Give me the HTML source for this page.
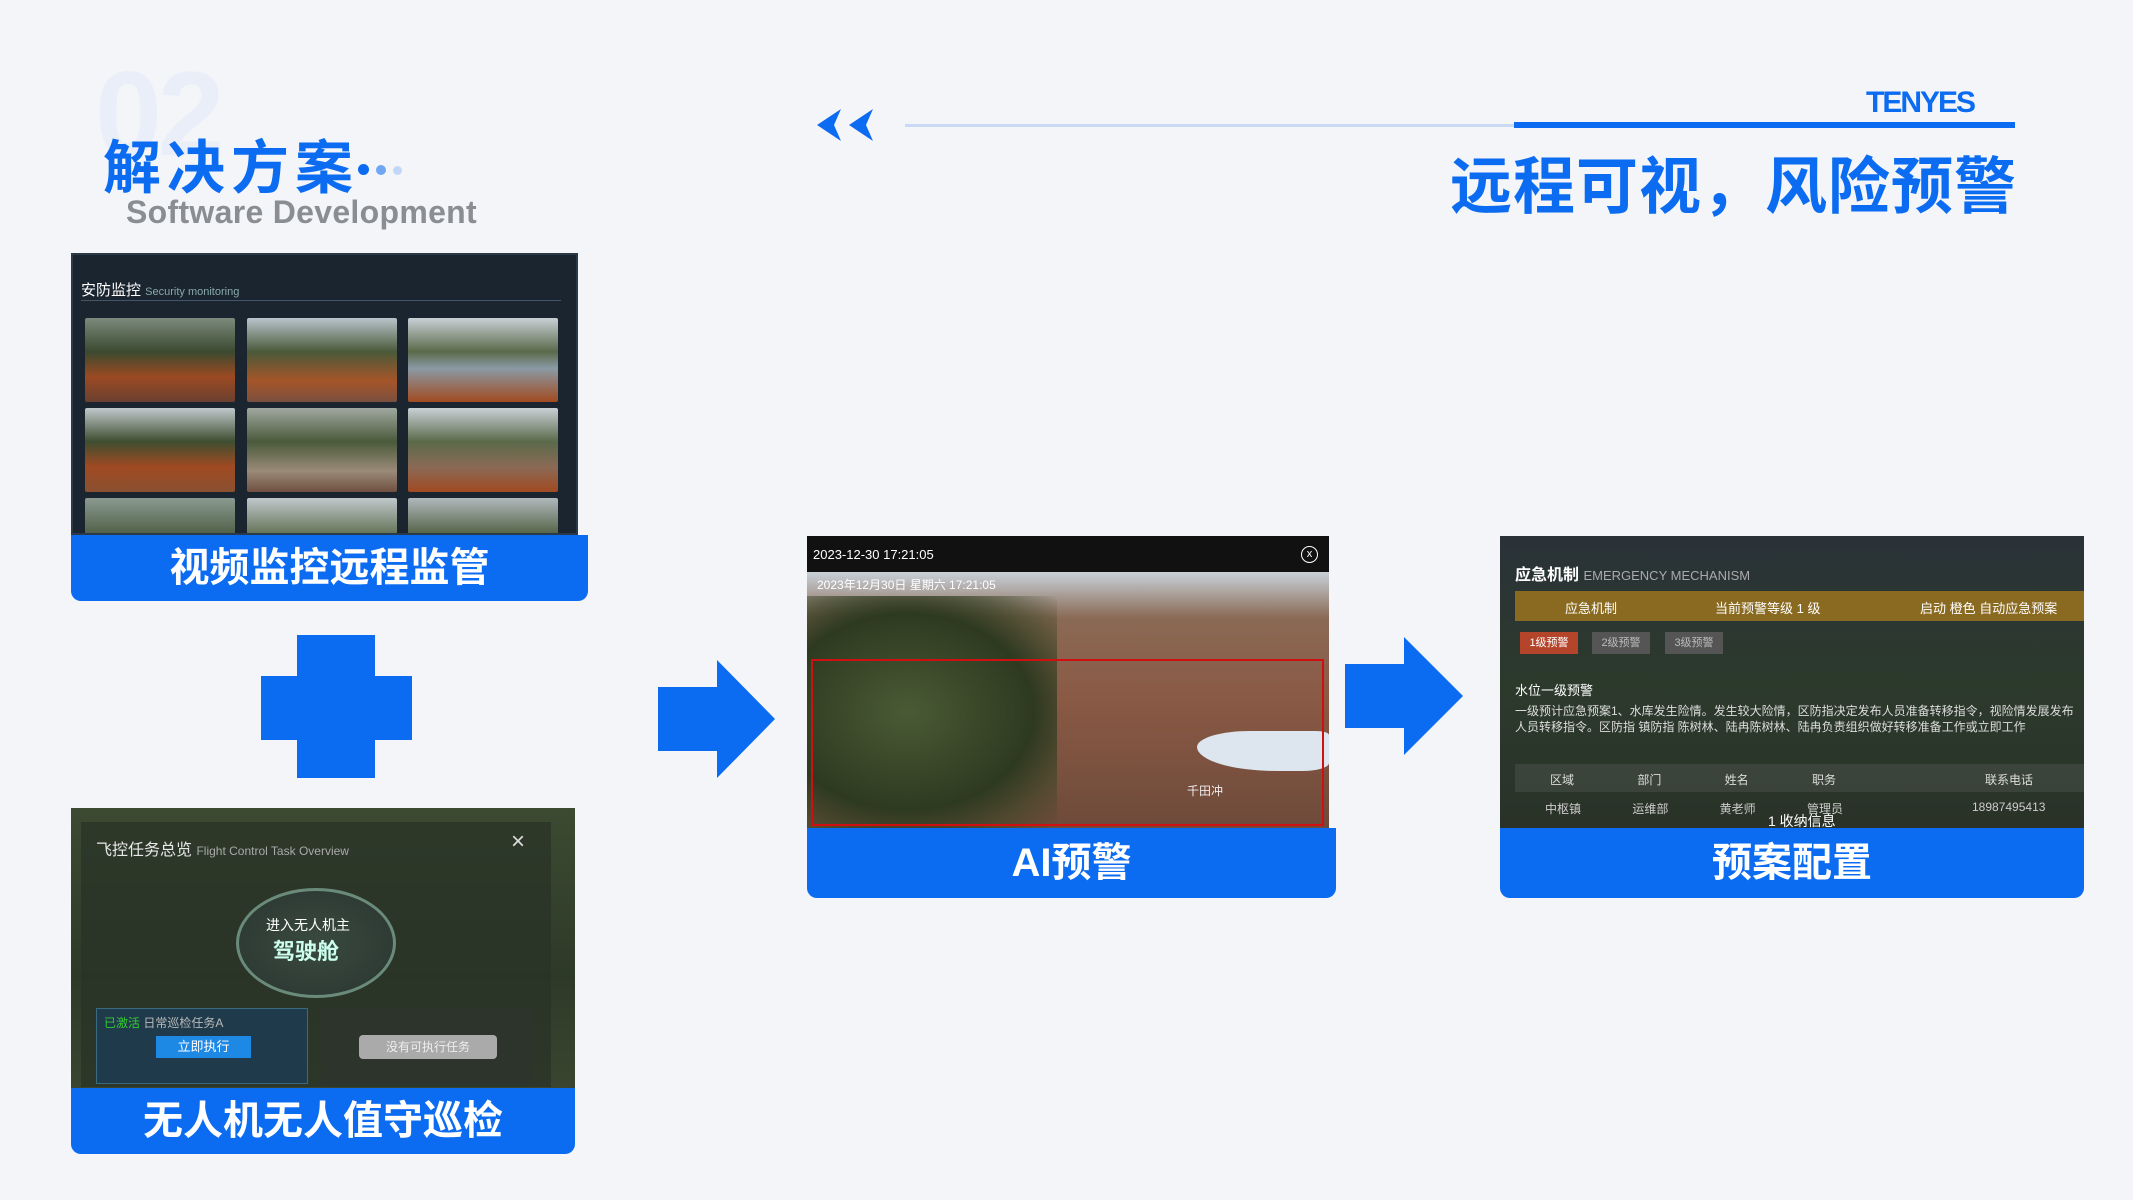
<!DOCTYPE html>
<html><head><meta charset="utf-8">
<style>
*{margin:0;padding:0;box-sizing:border-box}
body{width:2133px;height:1200px;background:#f3f5f8;position:relative;overflow:hidden;font-family:"Liberation Sans","Noto Sans CJK SC",sans-serif}
.a{position:absolute}
.lbl{position:absolute;background:#0b6cf2;color:#fff;font-weight:bold;text-align:center;border-radius:0 0 10px 10px;font-family:"Liberation Sans","Noto Sans CJK SC",sans-serif}
.img{position:absolute;overflow:hidden}
.ph{position:absolute;border-radius:2px}
</style></head><body>
<div class="a" style="left:95px;top:45px;font-size:120px;font-weight:bold;color:#e9eef8;letter-spacing:-4px">02</div>
<div class="a" style="left:103px;top:121px;font-size:58px;font-weight:bold;color:#0b6cf2;letter-spacing:6px">解决方案</div>
<div class="a" style="left:358px;top:164px;width:11px;height:11px;border-radius:50%;background:#0b6cf2"></div>
<div class="a" style="left:376px;top:165px;width:10px;height:10px;border-radius:50%;background:#6fa6f5"></div>
<div class="a" style="left:393px;top:166px;width:9px;height:9px;border-radius:50%;background:#c2d7f8"></div>
<div class="a" style="left:126px;top:194px;font-size:32px;font-weight:bold;color:#8a8d92;letter-spacing:0.3px">Software Development</div>

<svg class="a" style="left:815px;top:106px" width="66" height="38"><path d="M2 19 L26 3 L19 19 L26 35Z M34 19 L58 3 L51 19 L58 35Z" fill="#0b6cf2"/></svg>
<div class="a" style="left:905px;top:124px;width:610px;height:3px;background:#c9daf5"></div>
<div class="a" style="left:1514px;top:122px;width:501px;height:6px;background:#0b6cf2"></div>
<div class="a" style="left:1866px;top:86px;font-size:30px;font-weight:bold;color:#0b6cf2;letter-spacing:-2px">TENYES</div>
<div class="a" style="left:1450px;top:136px;font-size:62px;font-weight:bold;color:#0b6cf2;letter-spacing:1px">远程可视，风险预警</div>

<!-- panel 1 -->
<div class="img" style="left:71px;top:253px;width:507px;height:282px;background:#1a2530;border:2px solid #2b3a48">
 <div class="a" style="left:8px;top:24px;font-size:15px;color:#fff">安防监控 <span style="font-size:11px;color:#8aa">Security monitoring</span></div>
 <div class="a" style="left:8px;top:45px;width:480px;height:1px;background:#456"></div>
 <div class="ph" style="left:12px;top:63px;width:150px;height:84px;background:linear-gradient(#7b8a7c 0%,#3b4a30 40%,#9b4a22 70%,#6b4030)"></div>
 <div class="ph" style="left:174px;top:63px;width:150px;height:84px;background:linear-gradient(#b9c4cc 0%,#4a5a3a 40%,#a55528 75%,#7a5040)"></div>
 <div class="ph" style="left:335px;top:63px;width:150px;height:84px;background:linear-gradient(#c9d0d6 0%,#5a6a4a 40%,#8a9aa5 60%,#a14a20)"></div>
 <div class="ph" style="left:12px;top:153px;width:150px;height:84px;background:linear-gradient(#c0c8cc 0%,#3e4e30 40%,#a04a22 70%,#8a5030)"></div>
 <div class="ph" style="left:174px;top:153px;width:150px;height:84px;background:linear-gradient(#a0a8a0 0%,#4a5a3a 40%,#9a8a78 75%,#705040)"></div>
 <div class="ph" style="left:335px;top:153px;width:150px;height:84px;background:linear-gradient(#c9d0d6 0%,#5a6a4a 40%,#8a6a55 70%,#a04a22)"></div>
 <div class="ph" style="left:12px;top:243px;width:150px;height:40px;background:linear-gradient(#8a9a90,#4a5a40)"></div>
 <div class="ph" style="left:174px;top:243px;width:150px;height:40px;background:linear-gradient(#c0c8cc,#5a6a4a)"></div>
 <div class="ph" style="left:335px;top:243px;width:150px;height:40px;background:linear-gradient(#b0b8bc,#4a5a3a)"></div>
</div>
<div class="lbl" style="left:71px;top:535px;width:517px;height:66px;font-size:40px;line-height:66px">视频监控远程监管</div>

<!-- plus -->
<div class="a" style="left:297px;top:635px;width:78px;height:143px;background:#0b6cf2"></div>
<div class="a" style="left:261px;top:676px;width:151px;height:64px;background:#0b6cf2"></div>

<!-- panel 2 -->
<div class="img" style="left:71px;top:808px;width:504px;height:280px;background:linear-gradient(#3c4a32,#2e3a28 60%,#3a4530)">
 <div class="a" style="left:10px;top:14px;width:470px;height:265px;background:rgba(40,50,38,.7)"></div>
 <div class="a" style="left:25px;top:28px;font-size:16px;color:#e8e8e8">飞控任务总览 <span style="font-size:12px;color:#aaa">Flight Control Task Overview</span></div>
 <div class="a" style="left:440px;top:20px;font-size:24px;color:#ddd">×</div>
 <div class="a" style="left:165px;top:80px;width:160px;height:110px;border-radius:50%;border:3px solid #6a8a7a;background:radial-gradient(#3a4a40,#2a3530)"></div>
 <div class="a" style="left:195px;top:107px;font-size:14px;color:#fff">进入无人机主</div>
 <div class="a" style="left:202px;top:126px;font-size:22px;color:#cfe;font-weight:bold">驾驶舱</div>
 <div class="a" style="left:25px;top:200px;width:212px;height:76px;background:#1f3a4a;border:1px solid #3a6a80"></div>
 <div class="a" style="left:33px;top:206px;font-size:12px;color:#3c3">已激活 <span style="color:#bbb">日常巡检任务A</span></div>
 <div class="a" style="left:85px;top:228px;width:95px;height:22px;background:#1e88e5;color:#fff;font-size:13px;text-align:center;line-height:22px">立即执行</div>
 <div class="a" style="left:250px;top:200px;width:210px;height:76px;background:#2c342c"></div>
 <div class="a" style="left:288px;top:227px;width:138px;height:24px;background:#aaa;border-radius:4px;color:#eee;font-size:12px;text-align:center;line-height:24px">没有可执行任务</div>
</div>
<div class="lbl" style="left:71px;top:1088px;width:504px;height:66px;font-size:40px;line-height:66px">无人机无人值守巡检</div>

<!-- arrow1 -->
<svg class="a" style="left:658px;top:660px" width="120" height="120"><path d="M0 27 L59 27 L59 0 L117 59 L59 118 L59 91 L0 91Z" fill="#0b6cf2"/></svg>

<!-- panel 3 -->
<div class="img" style="left:807px;top:536px;width:522px;height:292px;background:linear-gradient(#9fb6cc 0%,#c9d3db 12%,#8a6a55 28%,#8a5a45 55%,#6e4a3a 100%)">
 <div class="a" style="left:0;top:0;width:522px;height:36px;background:#111"></div>
 <div class="a" style="left:6px;top:11px;font-size:13px;color:#fff">2023-12-30 17:21:05</div>
 <div class="a" style="left:494px;top:10px;width:17px;height:17px;border:1px solid #fff;border-radius:50%;color:#fff;font-size:11px;text-align:center;line-height:15px">x</div>
 <div class="a" style="left:0;top:60px;width:250px;height:232px;background:radial-gradient(ellipse at 40% 50%,#4a5a35,#2e3a20 60%,rgba(60,70,40,0.6) 80%,transparent)"></div>
 <div class="a" style="left:390px;top:195px;width:132px;height:40px;background:#dde5ee;border-radius:40% 10% 20% 60%"></div>
 <div class="a" style="left:4px;top:123px;width:513px;height:167px;border:2px solid #d01010"></div>
 <div class="a" style="left:10px;top:40px;font-size:12px;color:#fff">2023年12月30日 星期六 17:21:05</div>
 <div class="a" style="left:380px;top:246px;font-size:12px;color:#eee">千田冲</div>
</div>
<div class="lbl" style="left:807px;top:828px;width:529px;height:70px;font-size:40px;line-height:70px">AI预警</div>

<!-- arrow2 -->
<svg class="a" style="left:1345px;top:637px" width="120" height="120"><path d="M0 27 L59 27 L59 0 L118 59 L59 118 L59 91 L0 91Z" fill="#0b6cf2"/></svg>

<!-- panel 4 -->
<div class="img" style="left:1500px;top:536px;width:584px;height:292px;background:linear-gradient(#2a3238,#2c3a2c 50%,#2a3228)">
 <div class="a" style="left:15px;top:25px;font-size:16px;color:#fff;font-weight:bold">应急机制 <span style="font-size:13px;color:#aaa;font-weight:normal">EMERGENCY MECHANISM</span></div>
 <div class="a" style="left:15px;top:55px;width:569px;height:30px;background:#8a6a20"></div>
 <div class="a" style="left:65px;top:62px;font-size:13px;color:#fff">应急机制</div>
 <div class="a" style="left:215px;top:62px;font-size:13px;color:#fff">当前预警等级 1 级</div>
 <div class="a" style="left:420px;top:62px;font-size:13px;color:#fff">启动 橙色 自动应急预案</div>
 <div class="a" style="left:20px;top:96px;width:58px;height:22px;background:#b5452a;color:#fff;font-size:11px;text-align:center;line-height:22px">1级预警</div>
 <div class="a" style="left:92px;top:96px;width:58px;height:22px;background:#555;color:#bbb;font-size:11px;text-align:center;line-height:22px">2级预警</div>
 <div class="a" style="left:165px;top:96px;width:58px;height:22px;background:#555;color:#bbb;font-size:11px;text-align:center;line-height:22px">3级预警</div>
 <div class="a" style="left:15px;top:144px;font-size:13px;color:#fff">水位一级预警</div>
 <div class="a" style="left:15px;top:167px;width:569px;font-size:12px;color:#ddd;line-height:16px">一级预计应急预案1、水库发生险情。发生较大险情，区防指决定发布人员准备转移指令，视险情发展发布人员转移指令。区防指 镇防指 陈树林、陆冉陈树林、陆冉负责组织做好转移准备工作或立即工作</div>
 <div class="a" style="left:15px;top:228px;width:569px;height:28px;background:rgba(255,255,255,.08)"></div>
 <div class="a" style="left:50px;top:235px;font-size:12px;color:#ddd;word-spacing:60px">区域 部门 姓名 职务</div>
 <div class="a" style="left:485px;top:235px;font-size:12px;color:#ddd">联系电话</div>
 <div class="a" style="left:45px;top:264px;font-size:12px;color:#ccc;word-spacing:48px">中枢镇 运维部 黄老师 管理员</div>
 <div class="a" style="left:472px;top:264px;font-size:12px;color:#ccc">18987495413</div>
 <div class="a" style="left:268px;top:275px;font-size:14px;color:#fff">1 收纳信息</div>
</div>
<div class="lbl" style="left:1500px;top:828px;width:584px;height:70px;font-size:40px;line-height:70px">预案配置</div>
</body></html>
